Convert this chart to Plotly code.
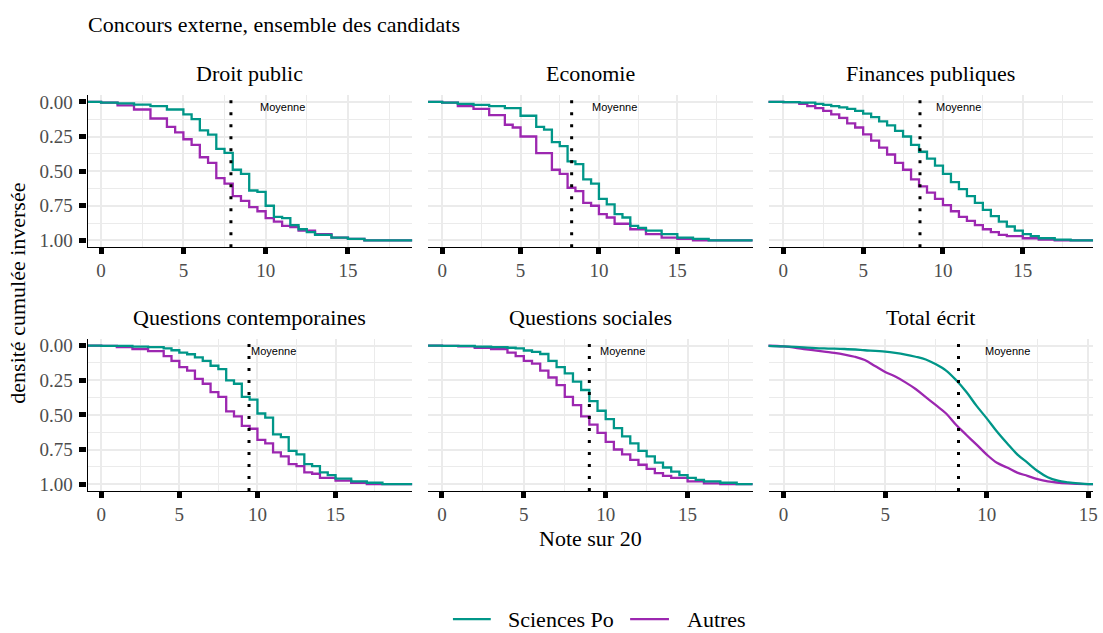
import plotly.graph_objects as go

# ---------------- data ----------------
panel_titles = ["Droit public", "Economie", "Finances publiques",
                "Questions contemporaines", "Questions sociales", "Total écrit"]
means = [7.89, 8.26, 8.56, 9.46, 9.0, 8.61]
series_names = ["Sciences Po", "Autres"]

droit_scpo_x = [-1, 0, 1, 2, 3, 4, 5, 5.5, 6, 6.5, 7, 7.5, 8, 8.5, 9, 9.5, 10, 10.5, 11, 11.5, 12, 12.5, 13, 14, 15, 16, 20]
droit_scpo_y = [0, 0.005, 0.01, 0.02, 0.03, 0.055, 0.09, 0.125, 0.205, 0.237, 0.34, 0.368, 0.49, 0.52, 0.64, 0.65, 0.75, 0.83, 0.84, 0.89, 0.92, 0.94, 0.96, 0.98, 0.99, 1.0, 1.0]
droit_autres_x = [-1, 0, 1, 2, 3, 4, 4.5, 5, 5.5, 6, 6.5, 7, 7.5, 8, 8.5, 9, 9.5, 10, 10.5, 11, 11.5, 12, 13, 14, 15, 16, 20]
droit_autres_y = [0, 0.005, 0.025, 0.055, 0.12, 0.18, 0.22, 0.27, 0.31, 0.40, 0.44, 0.55, 0.59, 0.68, 0.715, 0.76, 0.79, 0.84, 0.865, 0.895, 0.905, 0.93, 0.955, 0.98, 0.99, 1.0, 1.0]

eco_scpo_x = [-1, 0, 1, 2, 3, 4, 5, 6, 6.5, 7, 7.5, 8, 8.5, 9, 9.5, 10, 10.5, 11, 11.5, 12, 12.5, 13, 14, 15, 16, 17, 20]
eco_scpo_y = [0, 0.005, 0.015, 0.022, 0.03, 0.045, 0.1, 0.18, 0.2, 0.29, 0.32, 0.43, 0.45, 0.56, 0.59, 0.70, 0.74, 0.81, 0.835, 0.895, 0.91, 0.93, 0.955, 0.98, 0.99, 1.0, 1.0]
eco_autres_x = [-1, 0, 1, 2, 3, 4, 4.5, 5, 6, 7, 7.5, 8, 8.5, 9, 9.5, 10, 10.5, 11, 12, 13, 14, 15, 16, 20]
eco_autres_y = [0, 0.005, 0.03, 0.05, 0.095, 0.165, 0.185, 0.25, 0.37, 0.49, 0.52, 0.62, 0.645, 0.73, 0.75, 0.81, 0.835, 0.88, 0.92, 0.955, 0.98, 0.99, 1.0, 1.0]

fin_scpo_x = [-1, 0, 1, 2, 2.5, 3, 3.5, 4, 4.5, 5, 5.5, 6, 6.5, 7, 7.5, 8, 8.5, 9, 9.5, 10, 10.5, 11, 11.5, 12, 12.5, 13, 13.5, 14, 14.5, 15, 15.5, 16, 17, 18, 20]
fin_scpo_y = [0, 0.002, 0.005, 0.015, 0.022, 0.03, 0.04, 0.05, 0.065, 0.085, 0.11, 0.14, 0.17, 0.21, 0.25, 0.31, 0.36, 0.41, 0.46, 0.52, 0.58, 0.63, 0.68, 0.73, 0.78, 0.825, 0.865, 0.9, 0.93, 0.955, 0.97, 0.985, 0.995, 1.0, 1.0]
fin_autres_x = [-1, 0, 1, 1.5, 2, 2.5, 3, 3.5, 4, 4.5, 5, 5.5, 6, 6.5, 7, 7.5, 8, 8.5, 9, 9.5, 10, 10.5, 11, 11.5, 12, 12.5, 13, 13.5, 14, 15, 16, 17, 20]
fin_autres_y = [0, 0.002, 0.015, 0.03, 0.045, 0.065, 0.09, 0.115, 0.155, 0.185, 0.235, 0.28, 0.33, 0.38, 0.44, 0.49, 0.56, 0.61, 0.655, 0.70, 0.745, 0.79, 0.83, 0.86, 0.89, 0.92, 0.94, 0.96, 0.97, 0.985, 0.995, 1.0, 1.0]

qc_scpo_x = [-1, 0, 1, 2, 3, 4, 4.5, 5, 5.5, 6, 6.5, 7, 7.5, 8, 8.5, 9, 9.5, 10, 10.5, 11, 11.5, 12, 12.5, 13, 13.5, 14, 14.5, 15, 16, 17, 18, 20]
qc_scpo_y = [0, 0.001, 0.002, 0.007, 0.01, 0.02, 0.033, 0.05, 0.062, 0.085, 0.11, 0.145, 0.17, 0.25, 0.275, 0.37, 0.39, 0.49, 0.52, 0.64, 0.66, 0.76, 0.785, 0.855, 0.87, 0.915, 0.935, 0.96, 0.98, 0.99, 1.0, 1.0]
qc_autres_x = [-1, 0, 1, 2, 3, 4, 4.5, 5, 5.5, 6, 6.5, 7, 7.5, 8, 8.5, 9, 9.5, 10, 10.5, 11, 11.5, 12, 12.5, 13, 13.5, 14, 15, 16, 17, 20]
qc_autres_y = [0, 0.002, 0.01, 0.025, 0.04, 0.075, 0.11, 0.155, 0.18, 0.24, 0.275, 0.335, 0.37, 0.475, 0.51, 0.58, 0.6, 0.68, 0.705, 0.77, 0.8, 0.855, 0.87, 0.915, 0.925, 0.955, 0.975, 0.99, 1.0, 1.0]

qs_scpo_x = [-1, 0, 1, 2, 3, 4, 4.5, 5, 5.5, 6, 6.5, 7, 7.5, 8, 8.5, 9, 9.5, 10, 10.5, 11, 11.5, 12, 12.5, 13, 13.5, 14, 14.5, 15, 15.5, 16, 17, 18, 20]
qs_scpo_y = [0, 0.001, 0.002, 0.007, 0.01, 0.015, 0.02, 0.035, 0.045, 0.06, 0.11, 0.155, 0.2, 0.26, 0.32, 0.40, 0.47, 0.53, 0.595, 0.655, 0.705, 0.76, 0.8, 0.845, 0.88, 0.91, 0.935, 0.955, 0.97, 0.98, 0.99, 1.0, 1.0]
qs_autres_x = [-1, 0, 1, 2, 3, 4, 4.5, 5, 5.5, 6, 6.5, 7, 7.5, 8, 8.5, 9, 9.5, 10, 10.5, 11, 11.5, 12, 12.5, 13, 13.5, 14, 15, 16, 17, 20]
qs_autres_y = [0, 0.002, 0.005, 0.015, 0.025, 0.05, 0.075, 0.11, 0.13, 0.18, 0.23, 0.285, 0.37, 0.43, 0.51, 0.57, 0.63, 0.695, 0.75, 0.785, 0.825, 0.86, 0.89, 0.92, 0.94, 0.955, 0.98, 0.995, 1.0, 1.0]

tot_scpo_x = [-1, 0, 1, 2, 3, 4, 5, 5.5, 6, 6.5, 7, 7.5, 8, 8.5, 9, 9.5, 10, 10.5, 11, 11.5, 12, 12.5, 13, 13.5, 14, 14.5, 15, 16]
tot_scpo_y = [0, 0.005, 0.012, 0.02, 0.024, 0.033, 0.043, 0.052, 0.064, 0.08, 0.1, 0.135, 0.18, 0.25, 0.335, 0.435, 0.525, 0.62, 0.705, 0.785, 0.845, 0.905, 0.95, 0.975, 0.987, 0.995, 1.0, 1.0]
tot_autres_x = [-1, 0, 1, 2, 2.5, 3, 3.5, 4, 4.5, 5, 5.5, 6, 6.5, 7, 7.5, 8, 8.5, 9, 9.5, 10, 10.5, 11, 11.5, 12, 12.5, 13, 14, 15, 16]
tot_autres_y = [0, 0.005, 0.024, 0.043, 0.052, 0.064, 0.08, 0.104, 0.147, 0.19, 0.223, 0.265, 0.313, 0.372, 0.43, 0.49, 0.573, 0.645, 0.715, 0.787, 0.846, 0.88, 0.917, 0.94, 0.964, 0.98, 0.995, 1.0, 1.0]

y_tickvals = [0, 0.25, 0.5, 0.75, 1.0]
y_ticktext = ["0.00", "0.25", "0.50", "0.75", "1.00"]
x_tickvals = [0, 5, 10, 15]

# ---------------- layout helpers ----------------
W, H = 1103, 633
COL_PX = [(88, 414), (430, 756), (772, 1098)]
ROW_PX = [(93, 247), (339.5, 493.5)]
X_RANGES = [[-0.82, 18.9], [-0.9, 19.8], [-0.93, 19.4],
            [-0.87, 19.9], [-0.85, 18.97], [-0.74, 15.23]]
SHAPES = ["hv", "hv", "hv", "hv", "hv", "spline"]
TEAL = "#009688"
PURPLE = "#9C27B0"
SERIF = "Liberation Serif"
GRID = "#EBEBEB"


def py(px):
    return 1 - px / H


panels = [
    (droit_scpo_x, droit_scpo_y, droit_autres_x, droit_autres_y),
    (eco_scpo_x, eco_scpo_y, eco_autres_x, eco_autres_y),
    (fin_scpo_x, fin_scpo_y, fin_autres_x, fin_autres_y),
    (qc_scpo_x, qc_scpo_y, qc_autres_x, qc_autres_y),
    (qs_scpo_x, qs_scpo_y, qs_autres_x, qs_autres_y),
    (tot_scpo_x, tot_scpo_y, tot_autres_x, tot_autres_y),
]

fig = go.Figure()
layout = {}
annotations = []
shapes = []

for i, (sx, sy, ax, ay) in enumerate(panels):
    r, c = divmod(i, 3)
    n = "" if i == 0 else str(i + 1)
    xa, ya = "x" + n, "y" + n
    x0, x1 = COL_PX[c]
    ytop, ybot = ROW_PX[r]

    layout["xaxis" + n] = dict(
        domain=[x0 / W, x1 / W], anchor=ya, range=X_RANGES[i],
        tickvals=x_tickvals, ticks="outside", ticklen=6, tickwidth=5, tickcolor="black",
        showline=True, linecolor="black", linewidth=1.3,
        showgrid=True, gridcolor=GRID, gridwidth=1.6, zeroline=False,
        minor=dict(tick0=2.5, dtick=5, showgrid=True, gridcolor=GRID, gridwidth=0.9, ticks=""),
        tickfont=dict(family=SERIF, size=19, color="#4D4D4D"),
    )
    left = (c == 0)
    layout["yaxis" + n] = dict(
        domain=[py(ybot), py(ytop)], anchor=xa, range=[1.05, -0.05],
        tickvals=y_tickvals, ticktext=y_ticktext,
        ticks="outside" if left else "", ticklen=7, tickwidth=5, tickcolor="black",
        ticklabelstandoff=3,
        showticklabels=left,
        showline=left, linecolor="black", linewidth=1.3,
        showgrid=True, gridcolor=GRID, gridwidth=1.6, zeroline=False,
        minor=dict(tick0=0.125, dtick=0.25, showgrid=True, gridcolor=GRID, gridwidth=0.9, ticks=""),
        tickfont=dict(family=SERIF, size=19, color="#4D4D4D"),
    )

    fig.add_trace(go.Scatter(
        x=ax, y=ay, mode="lines", name=series_names[1], showlegend=False,
        line=dict(color=PURPLE, width=2.3, shape=SHAPES[i]),
        xaxis=xa, yaxis=ya, hoverinfo="skip"))
    fig.add_trace(go.Scatter(
        x=sx, y=sy, mode="lines", name=series_names[0], showlegend=False,
        line=dict(color=TEAL, width=2.3, shape=SHAPES[i]),
        xaxis=xa, yaxis=ya, hoverinfo="skip"))

    shapes.append(dict(type="line", xref=xa, yref=ya + " domain",
                       x0=means[i], x1=means[i], y0=0, y1=1,
                       line=dict(color="black", width=3, dash="3px,9px")))
    annotations.append(dict(x=11, y=0.04, xref=xa, yref=ya, text="Moyenne",
                            showarrow=False, xanchor="center", yanchor="middle",
                            font=dict(family="Liberation Sans", size=11, color="black")))
    annotations.append(dict(x=(x0 + x1) / 2 / W, y=py([71, 318][r]), xref="paper", yref="paper",
                            text=panel_titles[i], showarrow=False,
                            xanchor="center", yanchor="middle",
                            font=dict(family=SERIF, size=22, color="black")))

annotations.append(dict(x=86 / W, y=py(22), xref="paper", yref="paper",
                        text="Concours externe, ensemble des candidats", showarrow=False,
                        xanchor="left", yanchor="middle",
                        font=dict(family=SERIF, size=22, color="black")))
annotations.append(dict(x=593 / W, y=py(541), xref="paper", yref="paper",
                        text="Note sur 20", showarrow=False,
                        xanchor="center", yanchor="middle",
                        font=dict(family=SERIF, size=22, color="black")))
annotations.append(dict(x=18 / W, y=py(293), xref="paper", yref="paper",
                        text="densité cumulée inversée", showarrow=False, textangle=-90,
                        xanchor="center", yanchor="middle",
                        font=dict(family=SERIF, size=22, color="black")))

# legend (keys + labels)
legend_key_px = [(455, 493), (633, 672)]
legend_text_px = [508, 688]
for (k0, k1), tx, name, col in zip(legend_key_px, legend_text_px, series_names, [TEAL, PURPLE]):
    shapes.append(dict(type="line", xref="paper", yref="paper", x0=k0 / W, x1=k1 / W,
                       y0=py(623), y1=py(623), line=dict(color=col, width=2.3)))
    annotations.append(dict(x=tx / W, y=py(623), xref="paper", yref="paper", text=name,
                            showarrow=False, xanchor="left", yanchor="middle",
                            font=dict(family=SERIF, size=22, color="black")))

fig.update_layout(
    width=W, height=H,
    margin=dict(l=0, r=0, t=0, b=0),
    paper_bgcolor="white", plot_bgcolor="white",
    showlegend=False,
    annotations=annotations, shapes=shapes,
    **layout,
)

post = (
    "document.documentElement.style.margin='0px';"
    "document.body.style.margin='0px';"
    "document.body.style.overflow='hidden';"
)
fig.write_html("out.html", config={"displayModeBar": False}, post_script=post)
